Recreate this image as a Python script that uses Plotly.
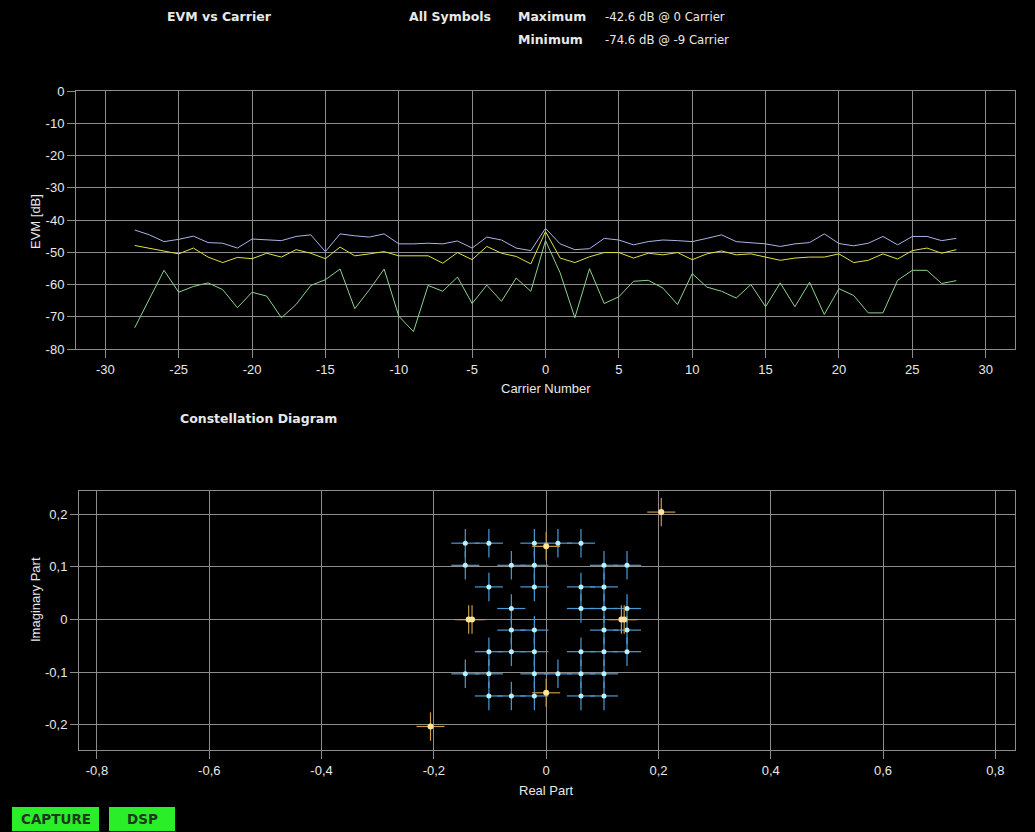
import plotly.graph_objects as go

W, H = 1035, 832

# ---------------- data ----------------
carriers = list(range(-28, 29))
evm_max = [-43.1, -44.6, -46.7, -46.0, -45.0, -47.0, -47.2, -48.7, -45.9, -46.2, -46.4, -45.1, -44.6, -49.8,
           -44.3, -44.9, -45.3, -44.3, -47.4, -47.4, -47.2, -47.4, -46.5, -48.7, -45.3, -46.2, -48.7, -49.5,
           -42.6, -47.4, -49.2, -48.9, -45.7, -46.2, -47.7, -46.7, -46.2, -46.4, -46.7, -45.7, -44.6, -46.7,
           -47.0, -47.4, -48.2, -47.4, -47.0, -44.3, -47.3, -48.0, -47.2, -45.1, -47.7, -45.1, -45.1, -46.4, -45.7]
evm_avg = [-47.9, -48.7, -49.5, -50.5, -48.7, -51.5, -53.2, -51.6, -52.0, -50.3, -51.5, -49.2, -50.3, -52.0,
           -48.4, -51.1, -50.5, -49.8, -51.1, -51.1, -51.1, -53.4, -50.1, -52.3, -48.2, -50.3, -51.3, -53.6,
           -43.6, -51.8, -53.2, -51.4, -50.1, -50.1, -51.8, -50.3, -50.8, -50.1, -52.3, -50.5, -49.6, -50.8,
           -50.5, -51.5, -52.5, -51.8, -51.5, -51.5, -50.5, -53.2, -52.5, -50.5, -52.1, -49.5, -48.7, -50.3, -49.2]
evm_min = [-73.4, -64.7, -55.6, -62.4, -60.6, -59.5, -61.6, -67.2, -62.4, -63.6, -70.3, -66.2, -60.3, -58.5,
           -55.2, -67.5, -61.6, -55.2, -69.8, -74.6, -60.3, -62.1, -57.7, -65.9, -60.2, -65.2, -58.0, -62.1,
           -46.4, -56.4, -70.3, -55.1, -65.9, -63.8, -59.0, -58.7, -61.1, -66.2, -56.6, -60.8, -62.1, -64.2,
           -60.0, -66.9, -59.5, -66.9, -59.3, -69.3, -61.3, -63.4, -68.8, -68.8, -58.7, -55.6, -55.6, -59.7, -58.8]

carrier_ticks = [-30, -25, -20, -15, -10, -5, 0, 5, 10, 15, 20, 25, 30]
carrier_ticktext = ["-30", "-25", "-20", "-15", "-10", "-5", "0", "5", "10", "15", "20", "25", "30"]
evm_ticks = [0, -10, -20, -30, -40, -50, -60, -70, -80]
evm_ticktext = ["0", "-10", "-20", "-30", "-40", "-50", "-60", "-70", "-80"]

# constellation (data symbols)
data_re = [-0.144, -0.102, -0.021, 0.021, 0.062,
           -0.144, -0.062, -0.021, 0.103, 0.144,
           -0.102, -0.021, 0.062, 0.103,
           -0.062, 0.062, 0.103, 0.144,
           -0.062, -0.021, 0.103, 0.144,
           -0.102, -0.062, -0.021, 0.062, 0.103, 0.144,
           -0.144, -0.102, -0.021, 0.021, 0.062, 0.103,
           -0.102, -0.062, -0.021, 0.062, 0.103]
data_im = [0.145, 0.145, 0.145, 0.145, 0.145,
           0.103, 0.103, 0.103, 0.103, 0.103,
           0.062, 0.062, 0.062, 0.062,
           0.021, 0.021, 0.021, 0.021,
           -0.020, -0.020, -0.020, -0.020,
           -0.061, -0.061, -0.061, -0.061, -0.061, -0.061,
           -0.103, -0.103, -0.103, -0.103, -0.103, -0.103,
           -0.145, -0.145, -0.145, -0.145, -0.145]
data_err_re = 0.025
data_err_im = 0.027

# pilot symbols
pilot_re = [0.205, -0.206, -0.138, -0.132, 0.134, 0.139, 0.0, 0.0]
pilot_im = [0.204, -0.203, 0.0, 0.0, 0.0, 0.0, 0.139, -0.139]
pilot_err_re = 0.025
pilot_err_im = 0.027

re_ticks = [-0.8, -0.6, -0.4, -0.2, 0, 0.2, 0.4, 0.6, 0.8]
re_ticktext = ["-0,8", "-0,6", "-0,4", "-0,2", "0", "0,2", "0,4", "0,6", "0,8"]
im_ticks = [0.2, 0.1, 0, -0.1, -0.2]
im_ticktext = ["0,2", "0,1", "0", "-0,1", "-0,2"]

# ---------------- styling ----------------
FONT = "Liberation Sans, Arial, sans-serif"
VAL_FONT = "DejaVu Sans Condensed, Liberation Sans, sans-serif"
BOLD_FONT = "DejaVu Sans, Liberation Sans, sans-serif"
GRID = "#8c8c8c"
TXT = "#e8e8e8"


def px_x(p):
    return p / W


def px_y(p):
    return 1 - p / H


fig = go.Figure()

fig.add_trace(go.Scatter(x=carriers, y=evm_min, mode="lines", line=dict(color="#8fd08f", width=1),
                         xaxis="x", yaxis="y", showlegend=False, hoverinfo="skip"))
fig.add_trace(go.Scatter(x=carriers, y=evm_avg, mode="lines", line=dict(color="#e0e040", width=1),
                         xaxis="x", yaxis="y", showlegend=False, hoverinfo="skip"))
fig.add_trace(go.Scatter(x=carriers, y=evm_max, mode="lines", line=dict(color="#aab4e6", width=1),
                         xaxis="x", yaxis="y", showlegend=False, hoverinfo="skip"))

fig.add_trace(go.Scatter(
    x=data_re, y=data_im, mode="markers", xaxis="x2", yaxis="y2", showlegend=False, hoverinfo="skip",
    marker=dict(color="#b8f2ff", size=5, line=dict(width=0)),
    error_x=dict(type="constant", value=data_err_re, color="#4a9ad6", thickness=1.2, width=0),
    error_y=dict(type="constant", value=data_err_im, color="#4a9ad6", thickness=1.2, width=0),
))
fig.add_trace(go.Scatter(
    x=pilot_re, y=pilot_im, mode="markers", xaxis="x2", yaxis="y2", showlegend=False, hoverinfo="skip",
    marker=dict(color="#ffe49a", size=6, line=dict(width=0)),
    error_x=dict(type="constant", value=pilot_err_re, color="#c89a45", thickness=1.2, width=0),
    error_y=dict(type="constant", value=pilot_err_im, color="#c89a45", thickness=1.2, width=0),
))

axis_common = dict(showgrid=True, gridcolor=GRID, gridwidth=1, zeroline=False, showline=True,
                   linecolor=GRID, linewidth=1, mirror=True, ticks="outside", ticklen=8,
                   tickcolor=GRID, tickwidth=1, automargin=False,
                   tickfont=dict(family=FONT, size=13, color=TXT))

fig.update_layout(
    width=W, height=H,
    margin=dict(l=0, r=0, t=0, b=0, pad=0),
    paper_bgcolor="black", plot_bgcolor="black",
    xaxis=dict(domain=[px_x(76), px_x(1015)], range=[-32, 32], anchor="y",
               tickvals=carrier_ticks, ticktext=carrier_ticktext, **axis_common),
    yaxis=dict(domain=[px_y(349), px_y(91)], range=[-80, 0], anchor="x",
               tickvals=evm_ticks, ticktext=evm_ticktext, **axis_common),
    xaxis2=dict(domain=[px_x(79), px_x(1015)], range=[-0.832, 0.835], anchor="y2",
                tickvals=re_ticks, ticktext=re_ticktext, **axis_common),
    yaxis2=dict(domain=[px_y(750), px_y(490.5)], range=[-0.2476, 0.245], anchor="x2",
                tickvals=im_ticks, ticktext=im_ticktext, **axis_common),
)


def label(text, x, y, bold=False, size=13, xanchor="left", color=TXT, angle=0, font=None):
    fig.add_annotation(
        text=f"<b>{text}</b>" if bold else text,
        x=px_x(x), y=px_y(y), xref="paper", yref="paper", showarrow=False,
        xanchor=xanchor, yanchor="middle", textangle=angle,
        font=dict(family=font or (BOLD_FONT if bold else FONT), size=size, color=color),
    )


label("EVM vs Carrier", 165, 17, bold=True, size=12.5)
label("All Symbols", 407, 17, bold=True, size=12.5)
label("Maximum", 516, 17, bold=True, size=12.5)
label("-42.6 dB @ 0 Carrier", 603, 17, font=VAL_FONT)
label("Minimum", 516, 39, bold=True, size=12.5)
label("-74.6 dB @ -9 Carrier", 603, 39, font=VAL_FONT)
label("Carrier Number", 546, 389, xanchor="center")
label("EVM [dB]", 35, 222, xanchor="center", angle=-90)
label("Constellation Diagram", 178, 418, bold=True, size=12.5)
label("Real Part", 546, 790, xanchor="center")
label("Imaginary Part", 35, 600, xanchor="center", angle=-90)

# status buttons
for x0, x1, txt in [(12, 99, "CAPTURE"), (109, 175, "DSP")]:
    fig.add_shape(type="rect", xref="paper", yref="paper",
                  x0=px_x(x0), x1=px_x(x1), y0=px_y(831), y1=px_y(807),
                  fillcolor="#2aee2a", line=dict(width=0), layer="above")
    label(txt, (x0 + x1) / 2, 819, bold=True, size=13.5, xanchor="center", color="#1a3a1a")

fig.write_html(
    "out.html",
    config={"displayModeBar": False},
    post_script=(
        "document.documentElement.style.margin='0';"
        "document.documentElement.style.overflow='hidden';"
        "document.body.style.margin='0';"
        "document.body.style.overflow='hidden';"
        "var d=document.getElementById('{plot_id}');"
        "d.style.position='fixed';d.style.top='0px';d.style.left='0px';"
    ),
)
